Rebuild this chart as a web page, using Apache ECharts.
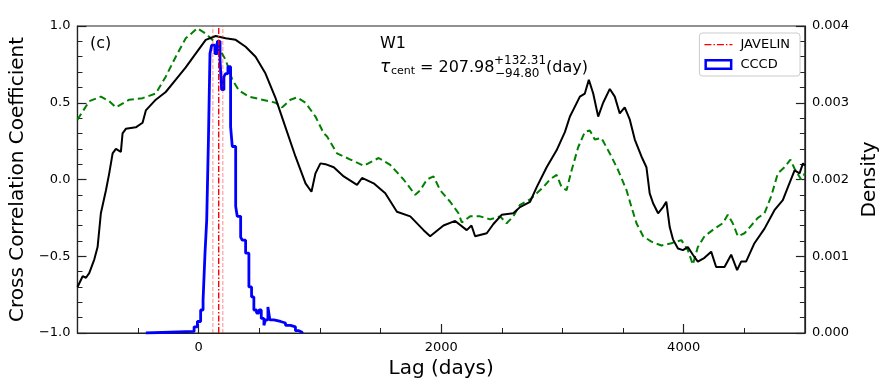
<!DOCTYPE html>
<html>
<head>
<meta charset="utf-8">
<script src="https://cdn.jsdelivr.net/npm/echarts@6/dist/echarts.min.js"></script>
<style>
  html, body { margin: 0; padding: 0; background: #fff; }
  #chart { width: 888px; height: 391px; }
</style>
</head>
<body>
<div id="chart"></div>
<script>
// ICCF 曲线 (黑色实线)
var ccfLag = [-1000, -957, -930, -903, -861, -834, -807, -765, -738, -710, -683, -642, -628, -601, -519, -463, -436, -354, -272, -189,
  -107, -25, 58, 140, 222, 305, 387, 469, 551, 634, 716, 798, 881, 930, 963, 1004, 1045, 1114, 1196, 1306,
  1347, 1443, 1539, 1635, 1745, 1855, 1909, 2019, 2115, 2211, 2250, 2280, 2376, 2431, 2499, 2595, 2650, 2733, 2788, 2870,
  2952, 3021, 3062, 3103, 3144, 3185, 3218, 3254, 3295, 3336, 3391, 3432, 3473, 3514, 3556, 3597, 3652, 3693, 3720, 3748,
  3789, 3830, 3857, 3885, 3912, 3953, 3994, 4035, 4076, 4117, 4172, 4227, 4268, 4337, 4392, 4441, 4474, 4515, 4584, 4667,
  4749, 4818, 4860, 4915, 4956, 4984, 5000];
var ccfVal = [-0.70, -0.63, -0.64, -0.61, -0.52, -0.44, -0.22, -0.07, 0.04, 0.17, 0.20, 0.18, 0.30, 0.33, 0.34, 0.37, 0.45, 0.52, 0.57, 0.65,
  0.73, 0.82, 0.91, 0.935, 0.92, 0.91, 0.865, 0.80, 0.69, 0.53, 0.34, 0.15, -0.025, -0.08, 0.04, 0.105, 0.10, 0.08, 0.02, -0.035,
  0.01, -0.025, -0.09, -0.21, -0.24, -0.33, -0.37, -0.30, -0.27, -0.33, -0.30, -0.37, -0.35, -0.29, -0.23, -0.22, -0.18, -0.145, -0.05, 0.08,
  0.19, 0.31, 0.41, 0.475, 0.54, 0.56, 0.65, 0.56, 0.41, 0.50, 0.59, 0.54, 0.43, 0.47, 0.39, 0.26, 0.15, 0.08, -0.09, -0.155,
  -0.22, -0.18, -0.145, -0.31, -0.39, -0.45, -0.46, -0.44, -0.49, -0.535, -0.51, -0.47, -0.57, -0.57, -0.49, -0.59, -0.535, -0.535, -0.415, -0.32,
  -0.20, -0.135, -0.05, 0.06, 0.04, 0.105, 0.09];

// 另一条 CCF (绿色虚线)
var dashLag = [-1000, -903, -807, -738, -683, -573, -463, -354, -272, -189, -107, -11, 58, 140, 222, 277, 332, 414, 524, 634,
  689, 757, 812, 881, 963, 1032, 1059, 1141, 1251, 1361, 1484, 1580, 1690, 1786, 1827, 1882, 1937, 1992, 2074, 2143,
  2170, 2239, 2321, 2403, 2486, 2540, 2595, 2650, 2733, 2788, 2842, 2897, 2952, 2993, 3034, 3076, 3130, 3185, 3226, 3267,
  3322, 3391, 3460, 3529, 3570, 3611, 3666, 3734, 3817, 3899, 3981, 4035, 4076, 4117, 4172, 4255, 4323, 4364, 4405, 4447,
  4502, 4557, 4612, 4667, 4722, 4777, 4832, 4881, 4915, 4969, 5000];
var dashVal = [0.39, 0.51, 0.54, 0.51, 0.47, 0.52, 0.53, 0.56, 0.67, 0.80, 0.92, 0.985, 0.95, 0.89, 0.78, 0.65, 0.58, 0.54, 0.52, 0.50,
  0.47, 0.52, 0.535, 0.50, 0.41, 0.30, 0.28, 0.17, 0.13, 0.09, 0.14, 0.095, 0.0, -0.10, -0.07, 0.0, 0.02, -0.07, -0.145, -0.22,
  -0.28, -0.24, -0.24, -0.26, -0.24, -0.285, -0.24, -0.165, -0.13, -0.09, -0.05, 0.0, 0.03, -0.05, -0.07, 0.06, 0.21, 0.31, 0.32, 0.26,
  0.27, 0.17, 0.06, -0.07, -0.18, -0.285, -0.37, -0.405, -0.43, -0.415, -0.395, -0.46, -0.555, -0.44, -0.37, -0.32, -0.285, -0.23, -0.285, -0.37,
  -0.35, -0.30, -0.25, -0.22, -0.11, 0.04, 0.08, 0.13, 0.07, 0.0, 0.04];

// CCCD 直方图: 边界 + 密度
var histEdges = [-436, -38, -11, 16, 36, 52, 66, 80, 93, 107, 134, 154, 176, 189, 208, 222, 241, 263, 277, 305,
  318, 346, 359, 387, 414, 436, 455, 477, 497, 516, 538, 551, 571, 587, 620, 675, 716, 757, 798, 826, 853];
var histDens = [0.00002, 0.00008, 0.00015, 0.0003, 0.00043, 0.00104, 0.00147, 0.0025, 0.00364, 0.00375,
  0.00364, 0.0038, 0.00356, 0.00317, 0.00334, 0.00338, 0.00347, 0.00269, 0.00243, 0.00165,
  0.00152, 0.00125, 0.00121, 0.00104, 0.0006, 0.00047, 0.0003, 0.00026, 0.0003, 0.00019,
  0.0001, 0.00017, 0.00034, 0.00017, 0.00015, 0.00013, 0.0001, 0.00008, 0.00003, 0.00001];

// JAVELIN 结果: 中值, 下限, 上限
var javelinLag = 165, javelinLow = 117, javelinHigh = 199;

var xMajor = [0, 2000, 4000];
var xMinor = [-500, 500, 1000, 1500, 2500, 3000, 3500, 4500];

var FONT = 'DejaVu Sans';
var AX = '#222';

function zip(a, b) {
  var out = [];
  for (var i = 0; i < a.length; i++) out.push([a[i], b[i]]);
  return out;
}
function minus(s) { return String(s).replace('-', '\u2212'); }

// 直方图 -> 阶梯线 (step:end = 先水平到下一个边界, 再竖直)
var histPts = [[histEdges[0], 0]];
for (var i = 0; i < histDens.length; i++) histPts.push([histEdges[i], histDens[i]]);
histPts.push([histEdges[histEdges.length - 1], 0]);

function vline(x) { return [[x, -1], [x, 1]]; }

var chart = echarts.init(document.getElementById('chart'), null, {renderer: 'canvas'});

var option = {
  animation: false,
  backgroundColor: '#fff',
  textStyle: {fontFamily: FONT},
  grid: {left: 77, right: 83, top: 26, bottom: 58, show: true, borderColor: AX, borderWidth: 1.2},
  legend: {
    right: 88, top: 33, orient: 'vertical',
    padding: [5, 10, 5, 5], itemGap: 7,
    itemWidth: 28, itemHeight: 11,
    borderColor: '#cccccc', borderWidth: 1, borderRadius: 3, backgroundColor: '#fff',
    textStyle: {fontFamily: FONT, fontSize: 13, color: '#000', padding: [0, 0, 0, 3]},
    data: [
      {name: 'JAVELIN', icon: 'path://M0,0 L0.01,0 L0,0.01 Z M0,11 L0.01,11 L0,10.99 Z M0,5 H7 V6.2 H0 Z M9,5 H10.5 V6.2 H9 Z M12.5,5 H19.5 V6.2 H12.5 Z M21.5,5 H23 V6.2 H21.5 Z M25,5 H28 V6.2 H25 Z',
        itemStyle: {color: '#ff0000', borderWidth: 0}},
      {name: 'CCCD', icon: 'path://M0,0 H28 V11 H0 Z M2.5,2.5 V8.5 H25.5 V2.5 Z', itemStyle: {color: '#0000ff', borderWidth: 0}}
    ]
  },
  xAxis: [{
    type: 'value', min: -1000, max: 5000, interval: 500, position: 'bottom',
    axisLine: {show: true, onZero: false, lineStyle: {color: AX, width: 1.2}},
    axisTick: {show: true, inside: true, length: 9, customValues: xMajor, lineStyle: {color: AX, width: 1.2}},
    axisLabel: {customValues: xMajor, fontSize: 13, color: '#000', margin: 8, fontFamily: FONT,
      formatter: function (v) { return minus(v); }},
    splitLine: {show: false},
    name: 'Lag (days)', nameLocation: 'middle', nameGap: 24,
    nameTextStyle: {fontSize: 20, color: '#000', fontFamily: FONT}
  }, {
    type: 'value', min: -1000, max: 5000, interval: 500, position: 'bottom',
    axisLine: {show: false, onZero: false},
    axisTick: {show: true, inside: true, length: 5, customValues: xMinor, lineStyle: {color: AX, width: 1}},
    axisLabel: {show: false},
    splitLine: {show: false}
  }],
  yAxis: [{
    type: 'value', min: -1, max: 1, interval: 0.5, position: 'left',
    axisLine: {show: true, onZero: false, lineStyle: {color: AX, width: 1.2}},
    axisTick: {show: true, inside: true, length: 9, lineStyle: {color: AX, width: 1.2}},
    minorTick: {show: true, splitNumber: 5, length: 5, lineStyle: {color: AX, width: 1}},
    axisLabel: {fontSize: 13, color: '#000', margin: 7, fontFamily: FONT,
      formatter: function (v) { return minus(v.toFixed(1)); }},
    splitLine: {show: false},
    name: 'Cross Correlation Coefficient', nameLocation: 'middle', nameGap: 48,
    nameTextStyle: {fontSize: 20, color: '#000', fontFamily: FONT}
  }, {
    type: 'value', min: 0, max: 0.004, interval: 0.001, position: 'right',
    axisLine: {show: true, onZero: false, lineStyle: {color: AX, width: 1.2}},
    axisTick: {show: true, inside: true, length: 9, lineStyle: {color: AX, width: 1.2}},
    minorTick: {show: true, splitNumber: 5, length: 5, lineStyle: {color: AX, width: 1}},
    axisLabel: {fontSize: 13, color: '#000', margin: 7, fontFamily: FONT,
      formatter: function (v) { return v.toFixed(3); }},
    splitLine: {show: false},
    name: 'Density', nameLocation: 'middle', nameGap: 52,
    nameTextStyle: {fontSize: 20, color: '#000', fontFamily: FONT}
  }],
  series: [{
    name: 'dash', type: 'line', data: zip(dashLag, dashVal), showSymbol: false, symbol: 'none',
    lineStyle: {color: '#008000', width: 2, type: [7, 4]}, z: 2
  }, {
    name: 'ICCF', type: 'line', data: zip(ccfLag, ccfVal), showSymbol: false, symbol: 'none',
    lineStyle: {color: '#000', width: 2}, z: 3
  }, {
    name: 'CCCD', type: 'line', yAxisIndex: 1, step: 'end', data: histPts, showSymbol: false, symbol: 'none',
    lineStyle: {color: '#0000ff', width: 2.8}, itemStyle: {color: '#0000ff'}, z: 4
  }, {
    name: 'JAVELIN', type: 'line', data: vline(javelinLag), showSymbol: false, symbol: 'none',
    lineStyle: {color: '#ff0000', width: 1.4, type: [6, 2, 1.5, 2]}, itemStyle: {color: '#ff0000'}, z: 5
  }, {
    name: 'jlow', type: 'line', data: vline(javelinLow), showSymbol: false, symbol: 'none',
    lineStyle: {color: 'rgba(255,0,0,0.45)', width: 1, type: [4, 2]}, z: 5
  }, {
    name: 'jhigh', type: 'line', data: vline(javelinHigh), showSymbol: false, symbol: 'none',
    lineStyle: {color: 'rgba(255,0,0,0.45)', width: 1, type: [4, 2]}, z: 5
  }],
  graphic: [
    {type: 'text', left: 90, top: 36, style: {text: '(c)', fontSize: 16, fontFamily: FONT, fill: '#000'}},
    {type: 'text', x: 380, y: 44, style: {text: 'W1', fontSize: 16, fontFamily: FONT, fill: '#000', verticalAlign: 'middle'}},
    {type: 'text', x: 380, y: 67.5, style: {text: '\u03c4', fontSize: 17, fontFamily: FONT, fontStyle: 'italic', fill: '#000', verticalAlign: 'middle'}},
    {type: 'text', x: 391, y: 71.5, style: {text: 'cent', fontSize: 11, fontFamily: FONT, fill: '#000', verticalAlign: 'middle'}},
    {type: 'text', x: 420, y: 67.5, style: {text: '= 207.98', fontSize: 16, fontFamily: FONT, fill: '#000', verticalAlign: 'middle'}},
    {type: 'text', x: 494, y: 60.5, style: {text: '+132.31', fontSize: 12, fontFamily: FONT, fill: '#000', verticalAlign: 'middle'}},
    {type: 'text', x: 495, y: 74, style: {text: '\u221294.80', fontSize: 12, fontFamily: FONT, fill: '#000', verticalAlign: 'middle'}},
    {type: 'text', x: 546, y: 67.5, style: {text: '(day)', fontSize: 16, fontFamily: FONT, fill: '#000', verticalAlign: 'middle'}}
  ]
};

chart.setOption(option);
</script>
</body>
</html>
